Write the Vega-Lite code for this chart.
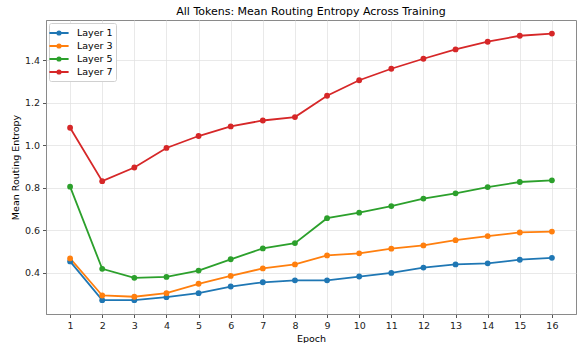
{
  "$schema": "https://vega.github.io/schema/vega-lite/v6.json",
  "width": 530,
  "height": 294,
  "autosize": {"type": "none"},
  "padding": {"left": 46, "top": 20, "right": 1, "bottom": 29},
  "background": "white",
  "title": {"text": "All Tokens: Mean Routing Entropy Across Training", "fontSize": 11, "font": "DejaVu Sans", "fontWeight": "normal", "color": "#000", "offset": 3},
  "config": {
    "font": "DejaVu Sans",
    "view": {"stroke": "#8a8a8a", "strokeWidth": 1},
    "axis": {"labelFont": "DejaVu Sans", "titleFont": "DejaVu Sans", "labelFontSize": 9.5, "titleFontSize": 9.5, "titleFontWeight": "normal", "labelColor": "#222", "titleColor": "#000", "gridColor": "#e0e0e0", "gridOpacity": 0.9, "gridWidth": 0.8, "domainColor": "#8a8a8a", "tickColor": "#555", "tickSize": 3.5}
  },
  "data": {"values": [
    {"epoch":1,"layer":"Layer 1","v":0.454},{"epoch":2,"layer":"Layer 1","v":0.272},{"epoch":3,"layer":"Layer 1","v":0.272},{"epoch":4,"layer":"Layer 1","v":0.286},{"epoch":5,"layer":"Layer 1","v":0.305},{"epoch":6,"layer":"Layer 1","v":0.336},{"epoch":7,"layer":"Layer 1","v":0.356},{"epoch":8,"layer":"Layer 1","v":0.365},{"epoch":9,"layer":"Layer 1","v":0.365},{"epoch":10,"layer":"Layer 1","v":0.383},{"epoch":11,"layer":"Layer 1","v":0.400},{"epoch":12,"layer":"Layer 1","v":0.425},{"epoch":13,"layer":"Layer 1","v":0.440},{"epoch":14,"layer":"Layer 1","v":0.445},{"epoch":15,"layer":"Layer 1","v":0.462},{"epoch":16,"layer":"Layer 1","v":0.471},
    {"epoch":1,"layer":"Layer 3","v":0.468},{"epoch":2,"layer":"Layer 3","v":0.294},{"epoch":3,"layer":"Layer 3","v":0.288},{"epoch":4,"layer":"Layer 3","v":0.305},{"epoch":5,"layer":"Layer 3","v":0.349},{"epoch":6,"layer":"Layer 3","v":0.386},{"epoch":7,"layer":"Layer 3","v":0.421},{"epoch":8,"layer":"Layer 3","v":0.440},{"epoch":9,"layer":"Layer 3","v":0.482},{"epoch":10,"layer":"Layer 3","v":0.492},{"epoch":11,"layer":"Layer 3","v":0.514},{"epoch":12,"layer":"Layer 3","v":0.529},{"epoch":13,"layer":"Layer 3","v":0.554},{"epoch":14,"layer":"Layer 3","v":0.573},{"epoch":15,"layer":"Layer 3","v":0.590},{"epoch":16,"layer":"Layer 3","v":0.594},
    {"epoch":1,"layer":"Layer 5","v":0.805},{"epoch":2,"layer":"Layer 5","v":0.419},{"epoch":3,"layer":"Layer 5","v":0.377},{"epoch":4,"layer":"Layer 5","v":0.381},{"epoch":5,"layer":"Layer 5","v":0.411},{"epoch":6,"layer":"Layer 5","v":0.464},{"epoch":7,"layer":"Layer 5","v":0.515},{"epoch":8,"layer":"Layer 5","v":0.540},{"epoch":9,"layer":"Layer 5","v":0.657},{"epoch":10,"layer":"Layer 5","v":0.683},{"epoch":11,"layer":"Layer 5","v":0.714},{"epoch":12,"layer":"Layer 5","v":0.749},{"epoch":13,"layer":"Layer 5","v":0.774},{"epoch":14,"layer":"Layer 5","v":0.803},{"epoch":15,"layer":"Layer 5","v":0.827},{"epoch":16,"layer":"Layer 5","v":0.835},
    {"epoch":1,"layer":"Layer 7","v":1.082},{"epoch":2,"layer":"Layer 7","v":0.831},{"epoch":3,"layer":"Layer 7","v":0.895},{"epoch":4,"layer":"Layer 7","v":0.987},{"epoch":5,"layer":"Layer 7","v":1.043},{"epoch":6,"layer":"Layer 7","v":1.088},{"epoch":7,"layer":"Layer 7","v":1.116},{"epoch":8,"layer":"Layer 7","v":1.132},{"epoch":9,"layer":"Layer 7","v":1.232},{"epoch":10,"layer":"Layer 7","v":1.305},{"epoch":11,"layer":"Layer 7","v":1.359},{"epoch":12,"layer":"Layer 7","v":1.406},{"epoch":13,"layer":"Layer 7","v":1.450},{"epoch":14,"layer":"Layer 7","v":1.486},{"epoch":15,"layer":"Layer 7","v":1.514},{"epoch":16,"layer":"Layer 7","v":1.524}
  ]},
  "mark": {"type": "line", "strokeWidth": 1.8, "point": {"size": 34, "filled": true}},
  "encoding": {
    "x": {"field": "epoch", "type": "quantitative", "title": "Epoch",
      "scale": {"domain": [0.25, 16.75], "nice": false, "zero": false},
      "axis": {"values": [1,2,3,4,5,6,7,8,9,10,11,12,13,14,15,16], "format": "d", "titlePadding": 3, "labelPadding": 3}},
    "y": {"field": "v", "type": "quantitative", "title": "Mean Routing Entropy",
      "scale": {"domain": [0.207, 1.588], "nice": false, "zero": false},
      "axis": {"values": [0.4, 0.6, 0.8, 1.0, 1.2, 1.4], "format": ".1f", "titlePadding": 4, "labelPadding": 3}},
    "color": {"field": "layer", "type": "nominal",
      "scale": {"domain": ["Layer 1","Layer 3","Layer 5","Layer 7"], "range": ["#1f77b4","#ff7f0e","#2ca02c","#d62728"]},
      "legend": {"title": null, "orient": "top-left", "offset": 3, "padding": 3, "labelFontSize": 9.5, "labelFont": "DejaVu Sans", "labelColor": "#000",
        "strokeColor": "#d0d0d0", "fillColor": "white", "cornerRadius": 2, "rowPadding": 0, "symbolSize": 144, "symbolStrokeWidth": 1.8, "labelOffset": 11,
        "symbolType": "M-1.6,0L1.6,0M-0.28,0A0.28,0.28 0 1,1 0.28,0A0.28,0.28 0 1,1 -0.28,0Z",
        "encode": {"symbols": {"update": {"fill": {"scale": "color", "field": "value"}, "stroke": {"scale": "color", "field": "value"}}}}}}
  }
}
